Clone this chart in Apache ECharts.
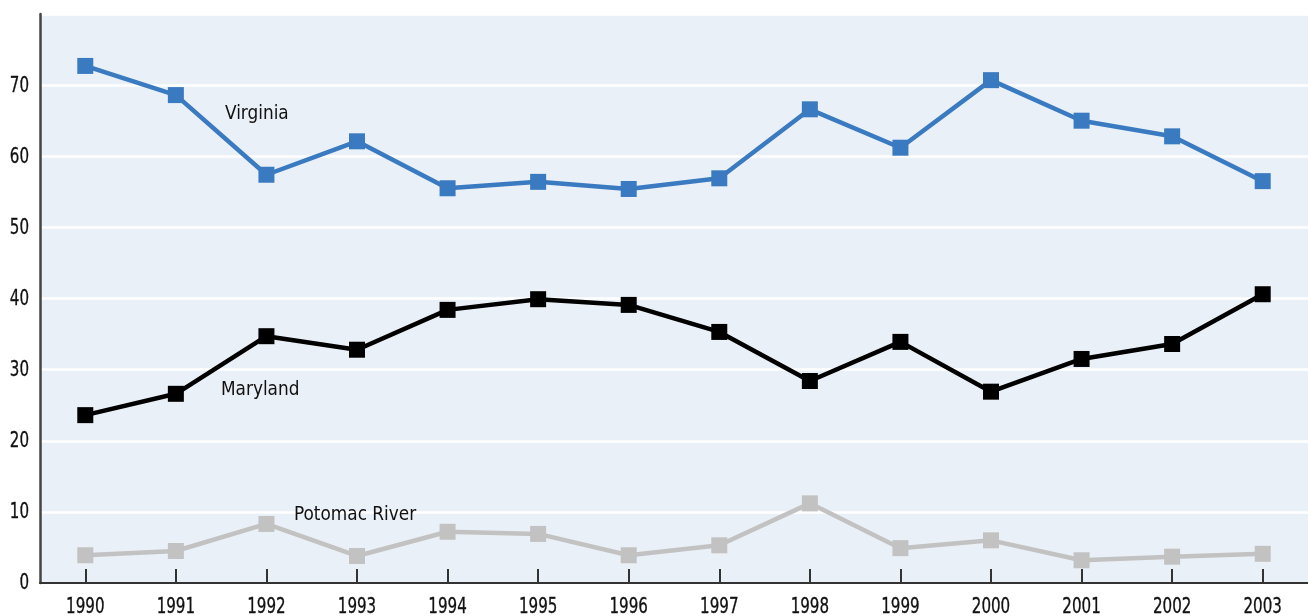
<!DOCTYPE html>
<html>
<head>
<meta charset="utf-8">
<script src="https://cdn.jsdelivr.net/npm/echarts@6/dist/echarts.min.js"></script>
<style>
html,body{margin:0;padding:0;background:#fff;}
#c{width:1308px;height:616px;}
</style>
</head>
<body>
<div id="c"></div>
<script>
const years = ['1990','1991','1992','1993','1994','1995','1996','1997','1998','1999','2000','2001','2002','2003'];
const virginia = [72.7, 68.6, 57.4, 62.1, 55.5, 56.4, 55.4, 56.9, 66.6, 61.2, 70.7, 65.0, 62.8, 56.5];
const maryland = [23.6, 26.6, 34.7, 32.8, 38.4, 39.9, 39.1, 35.3, 28.4, 33.9, 26.9, 31.5, 33.6, 40.6];
const potomac = [3.9, 4.5, 8.3, 3.8, 7.2, 6.9, 3.9, 5.3, 11.2, 4.9, 6.0, 3.2, 3.7, 4.1];
const yTicks = [0, 10, 20, 30, 40, 50, 60, 70];
const seriesNames = ['Virginia', 'Maryland', 'Potomac River'];

const FONT = '"DejaVu Sans Condensed", "Liberation Sans", sans-serif';
const chart = echarts.init(document.getElementById('c'), null, {renderer: 'canvas'});

function mk(name, data, color) {
  return {
    name: name, type: 'line', data: data,
    symbol: 'rect', symbolSize: 16,
    lineStyle: {color: color, width: 4.5},
    itemStyle: {color: color},
    animation: false, z: 3
  };
}

chart.setOption({
  animation: false,
  grid: {left: 40, top: 14, width: 1273, height: 569, show: true, backgroundColor: '#EAF0F7', borderWidth: 0},
  xAxis: {
    type: 'category', data: years, boundaryGap: true,
    axisLine: {show: true, lineStyle: {color: '#333', width: 2}},
    axisTick: {show: true, inside: true, length: 14, alignWithLabel: true, lineStyle: {color: '#333', width: 2}},
    axisLabel: {show: false},
    splitLine: {show: false}
  },
  yAxis: {
    type: 'value', min: 0, max: 80, interval: 10,
    axisLine: {show: true, lineStyle: {color: '#444', width: 2.5}},
    axisTick: {show: false},
    axisLabel: {show: false},
    splitLine: {show: true, lineStyle: {color: '#fff', width: 2.5}}
  },
  series: [
    mk(seriesNames[2], potomac, '#C2C2C2'),
    mk(seriesNames[1], maryland, '#000000'),
    mk(seriesNames[0], virginia, '#3A7AC1')
  ]
});

// Condensed tick labels placed through the library's own scales
const g = [];
const axisY = chart.convertToPixel({yAxisIndex: 0}, 0);
years.forEach(function (yr) {
  const px = chart.convertToPixel({xAxisIndex: 0}, yr);
  g.push({type: 'text', x: px, y: axisY + 25, scaleX: 0.8, z: 10, silent: true,
    style: {text: yr, fontFamily: FONT, fontSize: 21, fill: '#111', stroke: '#111', lineWidth: 0.3, textAlign: 'center', textVerticalAlign: 'middle'}});
});
const gridLeft = chart.getModel().getComponent('grid').coordinateSystem.getRect().x;
yTicks.forEach(function (v) {
  const py = chart.convertToPixel({yAxisIndex: 0}, v);
  g.push({type: 'text', x: gridLeft - 11, y: py + 1, scaleX: 0.8, z: 10, silent: true,
    style: {text: String(v), fontFamily: FONT, fontSize: 21, fill: '#111', stroke: '#111', lineWidth: 0.3, textAlign: 'right', textVerticalAlign: 'middle'}});
});
// Series name annotations
const ann = [
  {name: seriesNames[0], x: 225, y: 114},
  {name: seriesNames[1], x: 221, y: 390},
  {name: seriesNames[2], x: 294, y: 515}
];
ann.forEach(function (a) {
  g.push({type: 'text', x: a.x, y: a.y, scaleX: 0.94, z: 10, silent: true,
    style: {text: a.name, fontFamily: FONT, fontSize: 20, fill: '#111', textAlign: 'left', textVerticalAlign: 'middle'}});
});
chart.setOption({graphic: g});
</script>
</body>
</html>
